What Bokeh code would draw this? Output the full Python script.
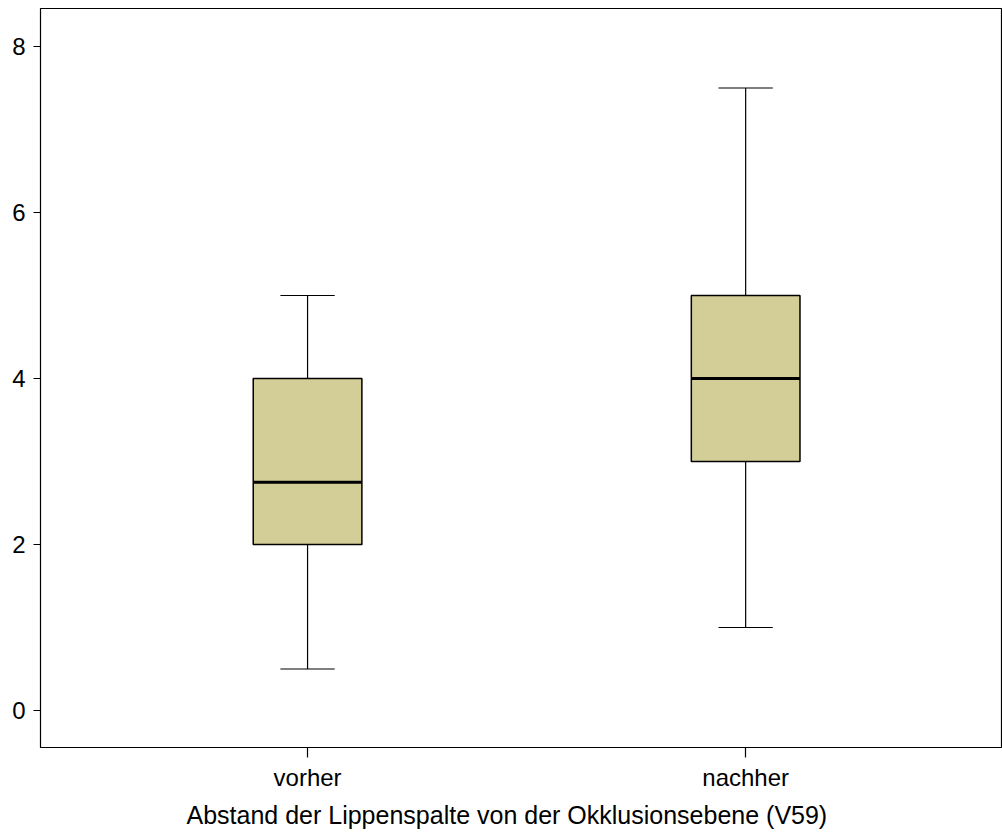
from bokeh.plotting import figure
from bokeh.models import Range1d, FixedTicker, LinearAxis, Title
from bokeh.embed import file_html
from bokeh.resources import INLINE

# Boxplot statistics for the lip-gap distance before and after
categories = ["vorher", "nachher"]
positions = [1, 2]
whisker_low = [0.5, 1.0]
q1 = [2.0, 3.0]
median = [2.75, 4.0]
q3 = [4.0, 5.0]
whisker_high = [5.0, 7.5]
y_ticks = [0, 2, 4, 6, 8]
x_title = "Abstand der Lippenspalte von der Okklusionsebene (V59)"

box_half = 0.124
cap_half = 0.062
FONT = "Liberation Sans"

p = figure(width=1002, height=836, output_backend="svg", toolbar_location=None,
           x_range=Range1d(0.3904, 2.584), y_range=Range1d(-0.446, 8.458),
           x_axis_location=None, y_axis_location=None)
p.min_border_left = 40
p.min_border_right = 1
p.min_border_top = 8
p.min_border_bottom = 89
p.xgrid.visible = False
p.ygrid.visible = False
p.outline_line_color = "black"
p.outline_line_width = 1.2
p.background_fill_color = "white"
p.border_fill_color = "white"

yax = LinearAxis(ticker=FixedTicker(ticks=y_ticks))
yax.axis_line_color = None
yax.major_tick_out = 7
yax.major_tick_in = 0
yax.major_tick_line_width = 1.2
yax.minor_tick_line_color = None
yax.major_label_standoff = 8
yax.major_label_text_font = FONT
yax.major_label_text_font_size = "24px"
yax.major_label_text_color = "black"
p.add_layout(yax, "left")

xax = LinearAxis(ticker=FixedTicker(ticks=positions))
xax.major_label_overrides = {pos: name for pos, name in zip(positions, categories)}
xax.axis_line_color = None
xax.major_tick_out = 10
xax.major_tick_in = 0
xax.major_tick_line_width = 1.2
xax.minor_tick_line_color = None
xax.major_label_standoff = 6
xax.major_label_text_font = FONT
xax.major_label_text_font_size = "24px"
xax.major_label_text_color = "black"
p.add_layout(xax, "below")

# axis title, centred on the whole chart width rather than the frame
p.add_layout(Title(text=x_title, align="left", offset=146, standoff=10,
                   text_font=FONT, text_font_size="25px", text_font_style="normal",
                   text_color="black"), "below")

left = [x - box_half for x in positions]
right = [x + box_half for x in positions]

# whisker stems
p.segment(x0=positions, y0=whisker_low, x1=positions, y1=q1, line_color="black", line_width=1.2)
p.segment(x0=positions, y0=q3, x1=positions, y1=whisker_high, line_color="black", line_width=1.2)
# whisker caps
p.segment(x0=[x - cap_half for x in positions], y0=whisker_low,
          x1=[x + cap_half for x in positions], y1=whisker_low, line_color="black", line_width=1.2)
p.segment(x0=[x - cap_half for x in positions], y0=whisker_high,
          x1=[x + cap_half for x in positions], y1=whisker_high, line_color="black", line_width=1.2)
# boxes
p.quad(left=left, right=right, bottom=q1, top=q3, fill_color="#D3CE98",
       line_color="black", line_width=1.5)
# medians
p.segment(x0=left, y0=median, x1=right, y1=median, line_color="black", line_width=3)

open("out.html", "w").write(file_html(p, INLINE))
